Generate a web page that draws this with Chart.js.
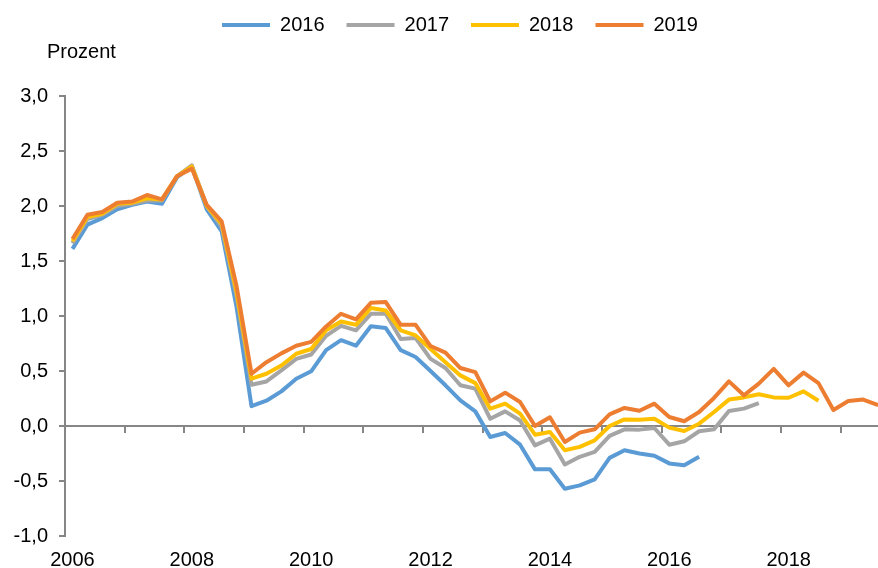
<!DOCTYPE html>
<html lang="de">
<head>
<meta charset="utf-8">
<title>Prozent 2006–2019</title>
<script src="https://cdn.jsdelivr.net/npm/chart.js@4/dist/chart.umd.min.js"></script>
<style>
  html, body { margin: 0; padding: 0; background: #fff; overflow: hidden; }
  /* the plot runs on past the right edge of the window, as in the original */
  #wrap { position: relative; width: 920px; height: 571px; }
</style>
</head>
<body>
<div id="wrap"><canvas id="chart"></canvas></div>
<script>
// ── Data ───────────────────────────────────────────────────────────────────
// quarterly, 2006 Q1 onwards; the axis keeps running to 2020 Q1
const firstYear = 2006;
const quarterCount = 57;
const quarters = [];
for (let i = 0; i < quarterCount; i++) {
  quarters.push(`${firstYear + Math.floor(i / 4)} Q${(i % 4) + 1}`);
}
const lastLabelled = 48; // 2018 is the last year label shown

const seriesNames = ['2016', '2017', '2018', '2019'];

const vintage2016 = [
  1.61, 1.83, 1.89, 1.97, 2.01, 2.04, 2.02, 2.26, 2.36, 1.97, 1.77, 1.08,
  0.18, 0.23, 0.315, 0.43, 0.497, 0.69, 0.78, 0.73, 0.906, 0.89, 0.69, 0.627,
  0.50, 0.37, 0.233, 0.133, -0.10, -0.064, -0.17, -0.394, -0.394, -0.57, -0.54, -0.485,
  -0.29, -0.22, -0.25, -0.27, -0.34, -0.357, -0.28,
];

const vintage2017 = [
  1.66, 1.88, 1.92, 2.00, 2.02, 2.05, 2.05, 2.27, 2.37, 2.00, 1.81, 1.18,
  0.375, 0.405, 0.505, 0.61, 0.65, 0.82, 0.91, 0.87, 1.02, 1.02, 0.79, 0.80,
  0.61, 0.527, 0.37, 0.34, 0.066, 0.133, 0.05, -0.176, -0.115, -0.35, -0.28, -0.236,
  -0.09, -0.03, -0.033, -0.018, -0.17, -0.139, -0.048, -0.03, 0.136, 0.158, 0.209,
];

const vintage2018 = [
  1.68, 1.90, 1.93, 2.02, 2.03, 2.07, 2.06, 2.27, 2.36, 2.00, 1.84, 1.22,
  0.43, 0.475, 0.55, 0.657, 0.70, 0.87, 0.95, 0.92, 1.073, 1.05, 0.87, 0.824,
  0.70, 0.58, 0.46, 0.39, 0.157, 0.203, 0.112, -0.079, -0.055, -0.22, -0.19, -0.13,
  0.0, 0.06, 0.057, 0.066, -0.015, -0.045, 0.021, 0.127, 0.24, 0.26, 0.288, 0.26,
  0.257, 0.315, 0.23,
];

const vintage2019 = [
  1.70, 1.92, 1.945, 2.03, 2.04, 2.10, 2.06, 2.27, 2.34, 2.01, 1.86, 1.27,
  0.475, 0.58, 0.66, 0.73, 0.765, 0.905, 1.02, 0.97, 1.12, 1.127, 0.92, 0.92,
  0.727, 0.667, 0.527, 0.49, 0.224, 0.303, 0.218, 0.0, 0.079, -0.145, -0.06, -0.03,
  0.106, 0.164, 0.139, 0.203, 0.082, 0.043, 0.127, 0.255, 0.406, 0.279, 0.385, 0.52,
  0.37, 0.485, 0.39, 0.145, 0.227, 0.24, 0.19,
];

const seriesValues = [vintage2016, vintage2017, vintage2018, vintage2019];

// ── Style ──────────────────────────────────────────────────────────────────
const COLORS = ['#5B9BD5', '#A5A5A5', '#FFC000', '#ED7D31'];
const AXIS_GREY = '#868686';
const FONT = '"Liberation Sans", Arial, sans-serif';
const LEGEND_GAP = 51;

const fmtPct = v => Number(v).toFixed(1).replace('.', ',');

// ── Extras: space under the legend, x tick marks on the zero line, unit ───
const axisExtras = {
  id: 'axisExtras',
  beforeInit(chart) {
    const fit = chart.legend.fit;
    chart.legend.fit = function () {
      fit.call(this);
      this.height += LEGEND_GAP;
    };
  },
  beforeDatasetsDraw(chart) {
    const { ctx, chartArea, scales: { x, y } } = chart;
    const y0 = y.getPixelForValue(0);
    const half = (x.getPixelForValue(1) - x.getPixelForValue(0)) / 2;

    ctx.save();
    ctx.strokeStyle = AXIS_GREY;
    ctx.lineWidth = 2;
    ctx.beginPath();
    for (let i = 4; i < quarters.length; i += 4) {
      const px = Math.round(x.getPixelForValue(i) - half);
      ctx.moveTo(px, y0);
      ctx.lineTo(px, y0 + 7);
    }
    ctx.stroke();

    ctx.fillStyle = '#000';
    ctx.font = `20px ${FONT}`;
    ctx.textAlign = 'left';
    ctx.textBaseline = 'alphabetic';
    ctx.fillText('Prozent', chartArea.left - 18, chartArea.top - 38);
    ctx.restore();
  },
};

// ── Chart ──────────────────────────────────────────────────────────────────
const datasets = seriesNames.map((name, i) => ({
  label: name,
  data: seriesValues[i],
  borderColor: COLORS[i],
  backgroundColor: COLORS[i],
  borderWidth: 4,
  borderJoinStyle: 'round',
  pointRadius: 0,
  pointHoverRadius: 0,
  tension: 0,
  order: seriesNames.length - i, // later vintages drawn on top
}));

new Chart(document.getElementById('chart'), {
  type: 'line',
  data: { labels: quarters, datasets },
  plugins: [axisExtras],
  options: {
    responsive: true,
    maintainAspectRatio: false,
    animation: false,
    layout: { padding: { top: -7, right: 0, bottom: -13, left: 0 } },
    plugins: {
      tooltip: { enabled: false },
      legend: {
        position: 'top',
        labels: {
          color: '#000',
          font: { family: FONT, size: 20 },
          boxWidth: 48,
          boxHeight: 4,
          padding: 22,
          sort: (a, b) => a.datasetIndex - b.datasetIndex,
          generateLabels: chart =>
            Chart.defaults.plugins.legend.labels.generateLabels(chart)
              .map(item => ({ ...item, lineWidth: 0 })),
        },
      },
    },
    scales: {
      x: {
        type: 'category',
        offset: true,
        grid: { display: false, drawTicks: false },
        border: { display: false },
        ticks: {
          autoSkip: false,
          maxRotation: 0,
          padding: 12,
          color: '#000',
          font: { family: FONT, size: 20 },
          callback: (v, i) =>
            (i % 8 === 0 && i <= lastLabelled ? quarters[i].slice(0, 4) : ''),
        },
      },
      y: {
        min: -1,
        max: 3,
        afterFit: scale => { scale.width = 65; },
        ticks: {
          stepSize: 0.5,
          padding: 11,
          color: '#000',
          font: { family: FONT, size: 20 },
          callback: v => fmtPct(v),
        },
        grid: {
          color: c => (c.tick && c.tick.value === 0 ? AXIS_GREY : 'rgba(0,0,0,0)'),
          lineWidth: 2,
          tickColor: AXIS_GREY,
          tickLength: 6,
          drawTicks: true,
        },
        border: { display: true, color: AXIS_GREY, width: 2 },
      },
    },
  },
});
</script>
</body>
</html>
